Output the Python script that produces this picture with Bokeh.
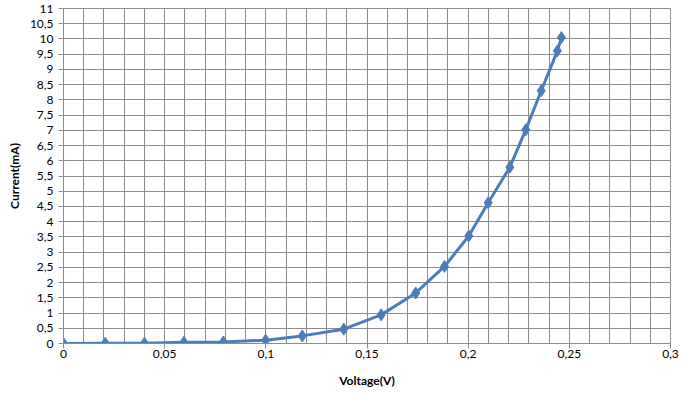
from bokeh.plotting import figure
from bokeh.models import FixedTicker, CustomJSTickFormatter, Range1d
from bokeh.embed import file_html
from bokeh.resources import INLINE

voltage = [0.0, 0.0206, 0.040, 0.0595, 0.079, 0.0999, 0.118, 0.1385, 0.157, 0.1741,
           0.1883, 0.2003, 0.2099, 0.2206, 0.2285, 0.2361, 0.2441, 0.2461]
current = [0.0, 0.01, 0.01, 0.04, 0.05, 0.11, 0.25, 0.47, 0.94, 1.66,
           2.53, 3.53, 4.62, 5.79, 7.02, 8.30, 9.61, 10.05]
x_ticks = [0, 0.05, 0.1, 0.15, 0.2, 0.25, 0.3]
y_ticks = [0, 0.5, 1, 1.5, 2, 2.5, 3, 3.5, 4, 4.5, 5, 5.5, 6, 6.5, 7, 7.5, 8, 8.5, 9, 9.5, 10, 10.5, 11]

x_label = "Voltage(V)"
y_label = "Current(mA)"

FONT = "Lato"
BLUE = "#4A7EBB"
GRID = "#8c8c8c"

p = figure(width=682, height=395, output_backend="svg", toolbar_location=None,
           x_range=Range1d(0, 0.3), y_range=Range1d(0, 11),
           min_border_left=63, min_border_right=12, min_border_top=8, min_border_bottom=52)

p.line(voltage, current, line_color=BLUE, line_width=3)
p.scatter(voltage, current, marker="diamond", size=12, fill_color=BLUE, line_color=BLUE)

fmt = CustomJSTickFormatter(code="return parseFloat(tick.toFixed(4)).toString().replace('.', ',');")

p.xaxis.ticker = FixedTicker(ticks=x_ticks)
p.yaxis.ticker = FixedTicker(ticks=y_ticks)
p.xgrid.ticker = FixedTicker(ticks=[round(i * 0.01, 2) for i in range(31)])
p.ygrid.ticker = FixedTicker(ticks=y_ticks)
p.xaxis.formatter = fmt
p.yaxis.formatter = fmt

for ax in (p.xaxis, p.yaxis):
    ax.major_label_text_font = FONT
    ax.major_label_text_font_size = "12px"
    ax.major_label_text_color = "#000000"
    ax.axis_line_color = GRID
    ax.major_tick_line_color = GRID
    ax.major_tick_out = 5
    ax.major_tick_in = 0
    ax.minor_tick_line_color = None
    ax.axis_label_text_font = FONT
    ax.axis_label_text_font_size = "12px"
    ax.axis_label_text_font_style = "bold"
    ax.axis_label_text_color = "#000000"

p.xaxis.axis_label = x_label
p.yaxis.axis_label = y_label
p.xaxis.major_label_standoff = 1
p.yaxis.major_label_standoff = 5
p.xaxis.axis_label_standoff = 12
p.yaxis.axis_label_standoff = 5

p.xgrid.grid_line_color = GRID
p.ygrid.grid_line_color = GRID
p.outline_line_color = GRID
p.background_fill_color = "white"
p.border_fill_color = "white"

open("out.html", "w").write(file_html(p, INLINE))
